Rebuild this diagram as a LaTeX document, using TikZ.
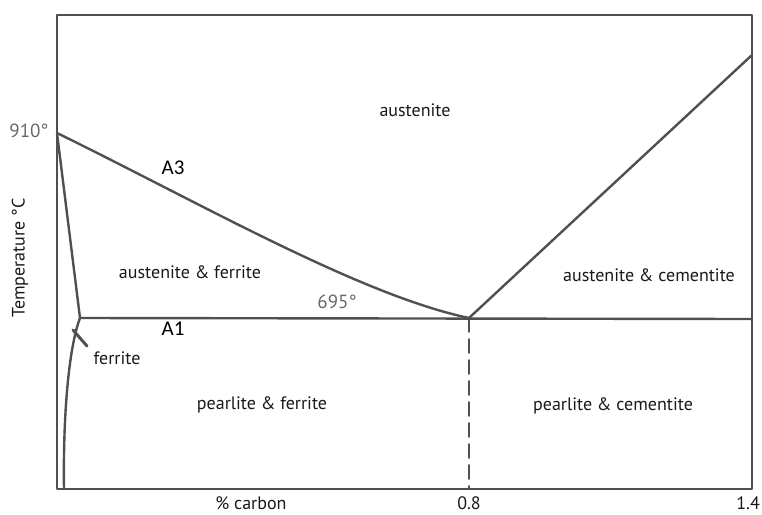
\documentclass[tikz,border=0pt]{standalone}
\usepackage{fontspec}
\setmainfont{PT Sans}
\newfontfamily\calfont{Carlito}
\usepackage{xcolor}
\usetikzlibrary{calc,positioning}

\definecolor{lineGray}{RGB}{80,80,80}
\definecolor{labelGray}{RGB}{105,105,105}
\definecolor{textDark}{RGB}{25,25,25}

\begin{document}
\begin{tikzpicture}[
    x=1pt, y=-1pt,
    phase/.style={line width=2.4pt, color=lineGray, line cap=round, line join=round},
    region/.style={font=\fontsize{18}{20}\selectfont, text=textDark},
    temp/.style={font=\fontsize{19}{21}\selectfont, text=labelGray},
    crit/.style={font=\calfont\fontsize{21}{24}\selectfont, text=black},
    axis/.style={font=\fontsize{18}{20}\selectfont, text=textDark, inner sep=1pt}
]
\useasboundingbox (0,0) rectangle (762,514);

% corners of the diagram
\coordinate (bl) at (57,489);
\coordinate (tr) at (752,15);
\coordinate (gamma) at (57,133);
\coordinate (pA) at (80,318);
\coordinate (eut) at (469,318);
\coordinate (aOne) at (752,319);
\coordinate (acm) at (752,55);
\coordinate (fBot) at (64,489);
\coordinate (eutBot) at (469,489);

\draw[phase] (bl) rectangle (tr);

% phase boundaries
\draw[phase] (gamma) .. controls (200,203) and (360,295) .. (eut);
\draw[phase] (eut) -- (acm);
\draw[phase] (pA) -- (aOne);
\draw[phase] (gamma) -- (pA);
\draw[phase] (pA) .. controls (68,350) and (63,420) .. (fBot);
\draw[phase, dashed, dash pattern=on 14pt off 7pt, line width=1.6pt] (eut) -- (eutBot);
\coordinate (tickA) at (73,330);
\coordinate (tickB) at (87,346);
\draw[phase, line width=3pt] (tickA) -- (tickB);

% labels
\node[temp] (t910) at (29,131) {910\textdegree};
\node[temp] (t695) at (337,302) {695\textdegree};
\node[crit] (lA3) at (173,168) {A3};
\node[crit] (lA1) at (173,329) {A1};
\node[region] (aus) at (415,110) {austenite};
\node[region] (ausF) at (190,272) {austenite \& ferrite};
\node[region] (ausC) at (649,275) {austenite \& cementite};
\node[region] (fer) at (117,358) {ferrite};
\node[region] (pearF) at (262,405) {pearlite \& ferrite};
\node[region] (pearC) at (613,406) {pearlite \& cementite};
\node[axis, rotate=90] (tAx) at (20,258) {Temperature \textdegree C};
\node[axis] (cAx) at (251,503) {\% carbon};
\node[axis] (c08) at (469,503) {0.8};
\node[axis, anchor=east] (c14) at (761,503) {1.4};

\end{tikzpicture}
\end{document}
